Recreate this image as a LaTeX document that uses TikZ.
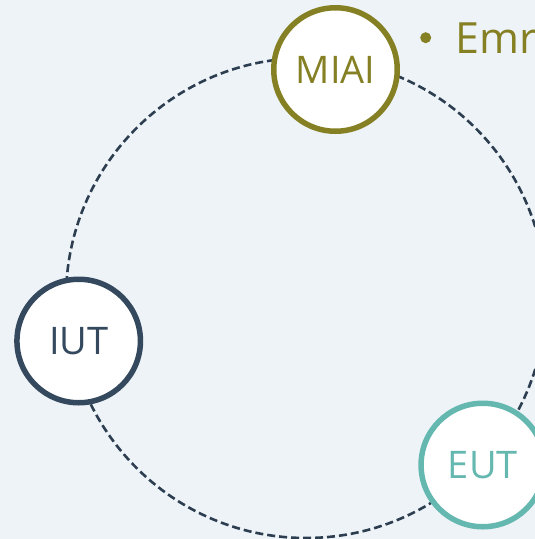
\documentclass[tikz,border=0pt]{standalone}
\usepackage{fontspec}
\setmainfont{Open Sans}
\definecolor{bgc}{RGB}{238,243,248}
\definecolor{olive}{RGB}{133,128,35}
\definecolor{navy}{RGB}{52,73,94}
\definecolor{teal}{RGB}{100,184,175}
\definecolor{dash}{RGB}{44,62,80}
\tikzset{
  hub/.style={circle, draw, fill=white, line width=5.5pt, minimum size=123.5pt, inner sep=0pt, font=\fontsize{38}{40}\selectfont},
  ring/.style={draw=dash, line width=2.6pt, dash pattern=on 8pt off 4pt}
}
\begin{document}
\begin{tikzpicture}[x=1pt,y=-1pt]
\fill[bgc] (0,0) rectangle (535,539);
\useasboundingbox (0,0) rectangle (535,539);
\clip (0,0) rectangle (535,539);
\coordinate (c) at (306,298);
\draw[ring] (c) circle[radius=240];
\node[hub, draw=olive, text=olive] (miai) at (335.5,69.5) {MIAI};
\node[hub, draw=navy, text=navy] (iut) at (78.7,341) {IUT};
\node[hub, draw=teal, text=teal] (eut) at (482.8,465) {EUT};
\node[fill=olive, circle, inner sep=0pt, minimum size=11pt] (bul) at (425.7,37.7) {};
\node[anchor=base west, inner sep=0pt, text=olive, font=\fontsize{43}{46}\selectfont] (emr) at (455,53) {Emr};
\end{tikzpicture}
\end{document}
